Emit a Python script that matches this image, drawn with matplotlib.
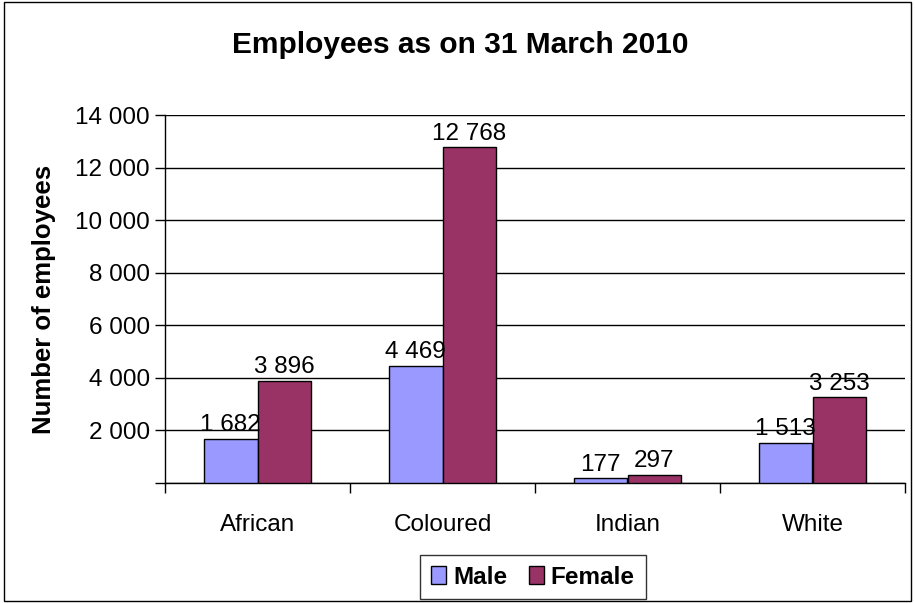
import matplotlib
matplotlib.use("Agg")
import matplotlib.pyplot as plt
from matplotlib.patches import Rectangle
import numpy as np

categories = ["African", "Coloured", "Indian", "White"]
male = [1682, 4469, 177, 1513]
female = [3896, 12768, 297, 3253]
yticks = [0, 2000, 4000, 6000, 8000, 10000, 12000, 14000]

plt.rcParams['font.family'] = ['Liberation Sans', 'DejaVu Sans']

def fmt(v):
    return f"{v:,}".replace(",", " ")

FS = 17.5

fig = plt.figure(figsize=(9.15, 6.03), dpi=100)
ax = fig.add_axes([165/915, 1-483/603, (905-165)/915, (483-115)/603])

x = np.arange(len(categories))
w = 0.29
bm = ax.bar(x - w/2, male, w, color="#9999FF", edgecolor="black", linewidth=1, label="Male", zorder=3)
bf = ax.bar(x + w/2, female, w, color="#993366", edgecolor="black", linewidth=1, label="Female", zorder=3)

for bars, vals in ((bm, male), (bf, female)):
    for b, v in zip(bars, vals):
        ax.annotate(fmt(v), (b.get_x() + b.get_width()/2, v), xytext=(0, 2),
                    textcoords="offset points", ha="center", va="bottom", fontsize=FS, zorder=4)

ax.set_xlim(-0.5, len(categories) - 0.5)
ax.set_ylim(0, 14000)
ax.set_yticks(yticks)
ax.set_yticklabels(["" if t == 0 else fmt(t) for t in yticks], fontsize=FS)
ax.yaxis.grid(True, color="black", linewidth=1, zorder=0)
ax.set_axisbelow(True)
ax.tick_params(axis="y", length=7, width=1, pad=4, direction="out")

ax.set_xticks(x)
ax.set_xticklabels(categories, fontsize=FS)
ax.set_xticks(np.arange(len(categories) + 1) - 0.5, minor=True)
ax.tick_params(axis="x", which="major", length=0, pad=22)
ax.tick_params(axis="x", which="minor", length=7, width=1, direction="out")

for s in ("top", "right"):
    ax.spines[s].set_visible(False)
for s in ("left", "bottom"):
    ax.spines[s].set_linewidth(1)
    ax.spines[s].set_color("black")

ax.set_ylabel("Number of employees", fontsize=18.5, fontweight="bold")
ax.yaxis.set_label_coords((56 - 165) / 740, 0.5)

fig.text(0.503, 1-45/603, "Employees as on 31 March 2010", ha="center", va="center",
         fontsize=21.5, fontweight="bold")

leg = fig.legend(handles=[bm, bf], loc="center", bbox_to_anchor=(533/915, 1-577/603), ncol=2,
                 frameon=True, fancybox=False, edgecolor="black", prop={"weight": "bold", "size": FS},
                 handlelength=0.6, handleheight=0.8, handletextpad=0.3, columnspacing=0.9,
                 borderpad=0.45, borderaxespad=0)
leg.get_frame().set_linewidth(1)

fig.patches.append(Rectangle((0.004, 0.003), 0.992, 0.994, transform=fig.transFigure,
                             fill=False, edgecolor="black", linewidth=1))

fig.savefig("out.png", dpi=100)
